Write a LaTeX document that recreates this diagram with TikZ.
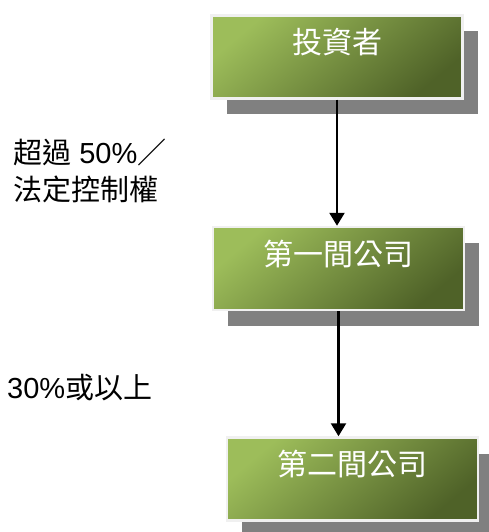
\documentclass[tikz,border=0pt]{standalone}
\usepackage{fontspec}
\setmainfont{Liberation Sans}
\newfontfamily\cjk{Noto Sans CJK TC}
\usetikzlibrary{arrows.meta,shadows}

\begin{document}
\begin{tikzpicture}[x=1pt,y=-1pt]
		\tikzstyle{every node}+=[inner sep=0pt]
		\tikzstyle{firm}=[rectangle, minimum width=251pt, text width=251pt, align=center,
			text height=38pt, text depth=45pt, draw=white!94!black, line width=2.5pt,
			top color={rgb,255:red,157;green,189;blue,90}, bottom color={rgb,255:red,79;green,98;blue,40}, shading angle=40,
			drop shadow={shadow xshift=15pt, shadow yshift=-16pt, fill=black!50, opacity=1},
			text=white, font=\fontsize{30}{36}\cjk]
		\tikzstyle{owns}=[-{Triangle[width=15pt,length=13pt]}, line width=2.4pt, black]
		\tikzstyle{share}=[anchor=west, align=left, font=\fontsize{29}{37}\selectfont]
		\useasboundingbox (0,0) rectangle (489,532);
		\node [firm] (investor) at (337,57) {投資者};
		\node [firm] (firstco) at (338.5,268.5) {第一間公司};
		\node [firm] (secondco) at (352.5,479) {第二間公司};
		\draw [owns] (investor.south) -- (investor.south |- firstco.north);
		\draw [owns] (firstco.south) -- (firstco.south |- secondco.north);
		\node [share] (control) at (13,171) {{\cjk 超過} 50\%{\cjk ／}\\{\cjk 法定控制權}};
		\node [share] (thirty) at (7,388) {30\%{\cjk 或以上}};
	\end{tikzpicture}
\end{document}
